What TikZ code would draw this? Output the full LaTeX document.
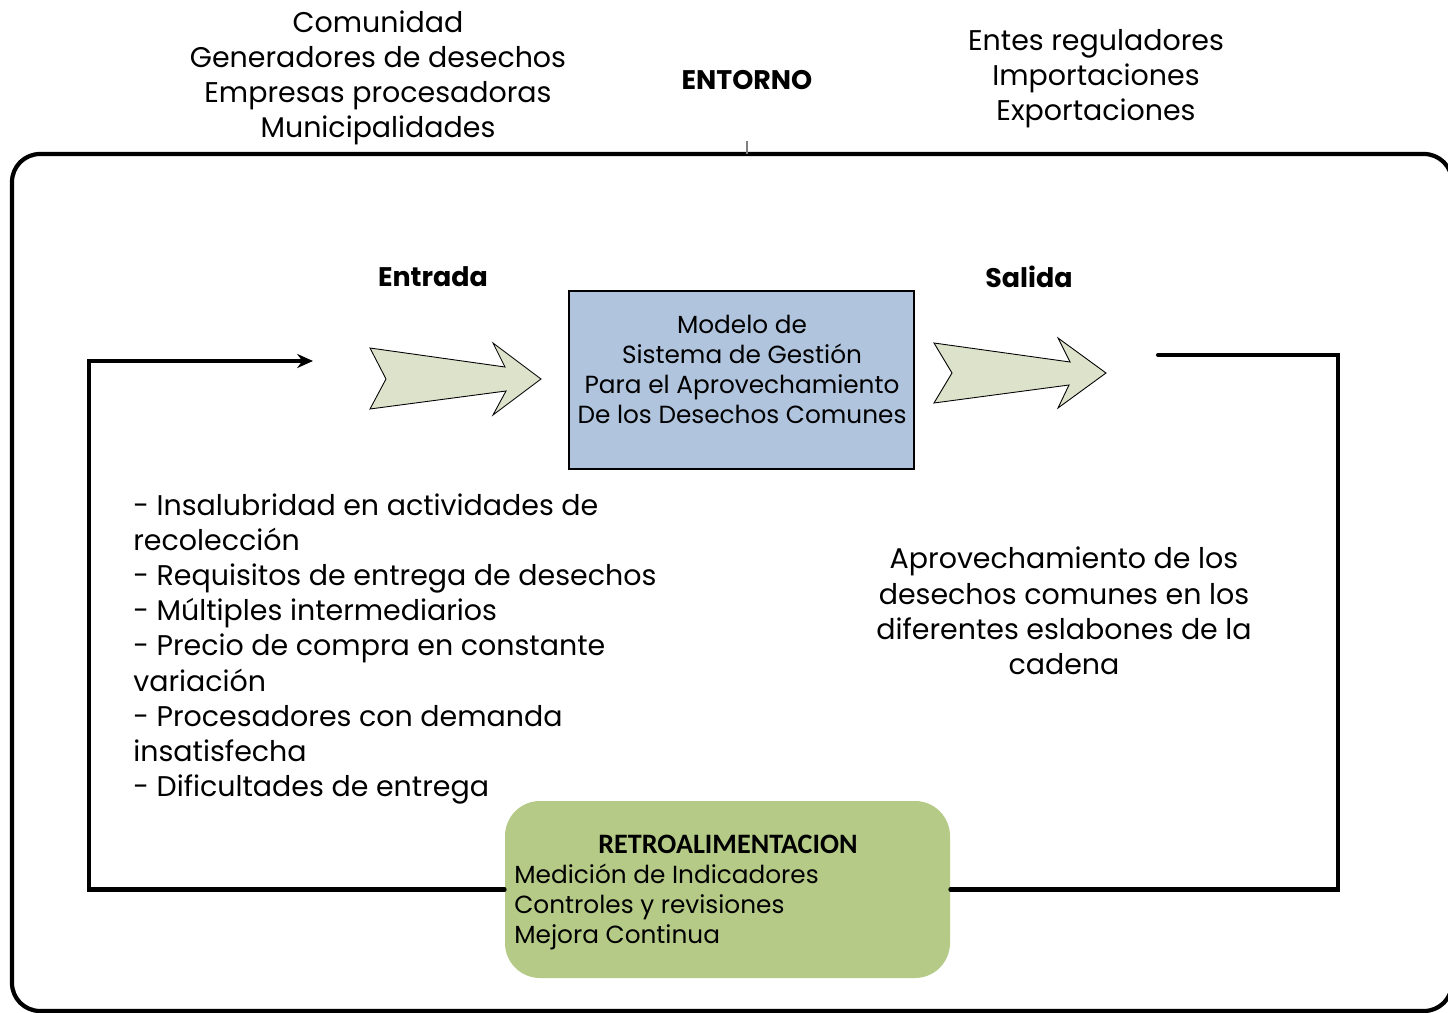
\documentclass[tikz,border=0pt]{standalone}
\usepackage{fontspec}
\setmainfont{Poppins}
\newfontfamily\carlito{Carlito}
\usetikzlibrary{arrows.meta}
\definecolor{boxblue}{RGB}{176,196,222}
\definecolor{arrowfill}{RGB}{221,226,203}
\definecolor{retrogreen}{RGB}{181,202,134}
\begin{document}
\begin{tikzpicture}[x=0.02cm,y=-0.02cm,
  bigtxt/.style={inner sep=0pt, font=\fontsize{16.2}{20}\selectfont},
  midtxt/.style={inner sep=0pt, font=\fontsize{14.1}{17.2}\selectfont},
  headtxt/.style={inner sep=0pt, font=\bfseries\fontsize{15.3}{18}\selectfont},
  thickline/.style={line width=2.3pt, line cap=round},
  fatarrow/.style={draw=black, line width=0.5pt, fill=arrowfill, line join=miter}]
\clip (0,0) rectangle (1448,1013);
% outer frame
\draw[line width=2.4pt, rounded corners=0.56cm] (12,154) rectangle (1452,1011);
\draw[gray, line width=0.8pt] (747,141) -- (747,154);
% environment texts
\node[bigtxt, align=center] (env1) at (378,78) {Comunidad\\Generadores de desechos\\Empresas procesadoras\\Municipalidades};
\node[headtxt] (entorno) at (747,80) {ENTORNO};
\node[bigtxt, align=center] (env2) at (1096,79) {Entes reguladores\\Importaciones\\Exportaciones};
% headers
\node[headtxt] (entrada) at (433,277) {Entrada};
\node[headtxt] (salida) at (1029,277) {Salida};
% model box
\node[draw=black, line width=1.1pt, fill=boxblue, minimum width=345*0.02cm, minimum height=178*0.02cm, inner sep=0pt] (model) at (741.5,380) {};
\node[midtxt, align=center] (modeltxt) at (742,369.5) {Modelo de\\Sistema de Gestión\\Para el Aprovechamiento\\De los Desechos Comunes};
% fat arrows
\draw[fatarrow] (370,348) -- (505,367) -- (493,343) -- (541,379) -- (493,415) -- (506,391) -- (370,409) -- (386,379) -- cycle;
\draw[fatarrow] (934,343) -- (1070,362) -- (1058,338) -- (1106,373) -- (1058,408) -- (1069,385) -- (934,403) -- (952,373) -- cycle;
% input list
\node[bigtxt, align=left, anchor=west] (inputs) at (133,649) {- Insalubridad en actividades de\\recolección\\- Requisitos de entrega de desechos\\- Múltiples intermediarios\\- Precio de compra en constante\\variación\\- Procesadores con demanda\\insatisfecha\\- Dificultades de entrega};
% output text
\node[bigtxt, align=center] (outputs) at (1064,611) {Aprovechamiento de los\\desechos comunes en los\\diferentes eslabones de la\\cadena};
% feedback box
\node[fill=retrogreen, rounded corners=0.7cm, minimum width=445*0.02cm, minimum height=177*0.02cm, inner sep=0pt] (retro) at (727.5,889.5) {};
\node[inner sep=0pt, font=\carlito\bfseries\fontsize{16}{18}\selectfont] (retrohead) at (728,844) {RETROALIMENTACION};
\node[midtxt, align=left, anchor=west] (retrotxt) at (514,907) {Medición de Indicadores\\Controles y revisiones\\Mejora Continua};
% feedback loop
\coordinate (inend) at (313,361);
\coordinate (outstart) at (1158,355);
\draw[thickline, line join=miter, -{Stealth[length=9pt,width=8pt]}] (retro.west) -- (89,889.5) -- (89,361) -- (inend);
\draw[thickline, line join=miter] (retro.east) -- (1338,889.5) -- (1338,355) -- (outstart);
\end{tikzpicture}
\end{document}
